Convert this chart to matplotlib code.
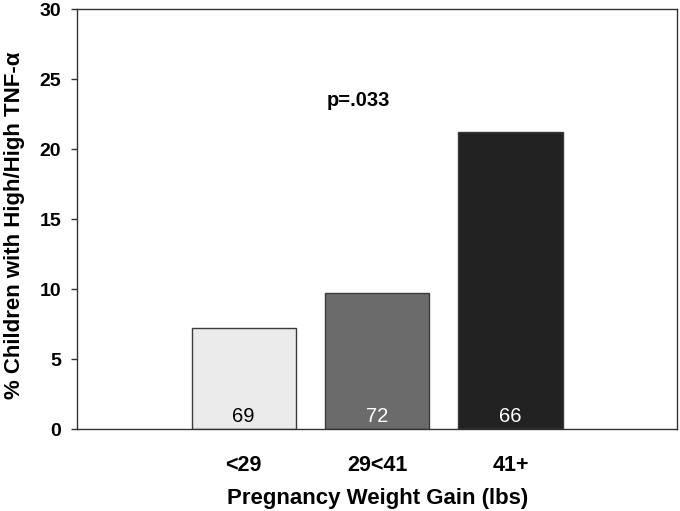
import matplotlib.pyplot as plt

# data
groups = ['<29', '29<41', '41+']
pct_high = [7.23, 9.73, 21.27]
n_children = [69, 72, 66]
bar_colors = ['#ebebeb', '#6b6b6b', '#222222']
count_colors = ['black', 'white', 'white']
p_text = 'p=.033'

plt.rcParams['font.family'] = ['Liberation Sans', 'DejaVu Sans']

fig = plt.figure(figsize=(6.8, 5.11), dpi=100)
ax = fig.add_axes([0.1132, 0.1595, 0.8828, 0.8223])

x = [1, 2, 3]
ax.bar(x, pct_high, width=0.783, color=bar_colors, edgecolor='#3a3a3a', linewidth=1)

for xi, n, c in zip(x, n_children, count_colors):
    ax.text(xi, 0.95, str(n), ha='center', va='center', fontsize=14.5, color=c)

ax.text(1.863, 23.5, p_text, ha='center', va='center', fontsize=14.5, fontweight='bold')

ax.set_xlim(-0.25, 4.25)
ax.set_ylim(0, 30)
ax.set_yticks([0, 5, 10, 15, 20, 25, 30])
ax.set_xticks(x)
ax.set_xticklabels(groups, fontsize=15.5, fontweight='bold')
for lbl in ax.get_yticklabels():
    lbl.set_fontsize(14)
    lbl.set_fontweight('bold')
ax.tick_params(axis='x', length=0, pad=18.5)
ax.tick_params(axis='y', length=4.3, width=1, color='#333333', pad=7)

for s in ax.spines.values():
    s.set_color('#333333')
    s.set_linewidth(1)

ax.set_xlabel('Pregnancy Weight Gain (lbs)', fontsize=16, fontweight='bold', labelpad=8.5)
ax.set_ylabel('% Children with High/High TNF-α', fontsize=16, fontweight='bold')
ax.yaxis.set_label_coords(-0.086, 0.487)

fig.savefig('out.png', dpi=100)
